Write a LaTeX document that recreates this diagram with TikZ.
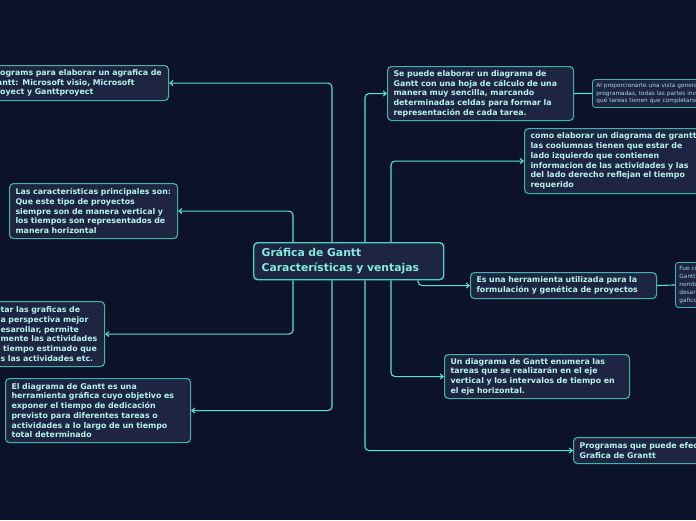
\documentclass[tikz,border=0pt]{standalone}
\usepackage{fontspec}
\setmainfont{DejaVu Sans}
\usetikzlibrary{arrows.meta}
\definecolor{bgc}{HTML}{0B1229}
\definecolor{boxc}{HTML}{1E2542}
\definecolor{edgec}{HTML}{3FB5A8}
\definecolor{cedgec}{HTML}{4CD3C3}
\definecolor{linec}{HTML}{5CE3D3}
\definecolor{txtc}{HTML}{B5F4EC}
\definecolor{ctxt}{HTML}{84EBDF}
\definecolor{stxt}{HTML}{9FD9E0}
\newcommand\myln[1]{\mbox{#1}}
\begin{document}
\begin{tikzpicture}[x=1pt,y=-1pt,
 topic/.style={draw=edgec, line width=1.1pt, fill=boxc, rounded corners=4pt, text=txtc, align=left, anchor=north west, inner xsep=6pt, inner ysep=2pt, font=\bfseries\fontsize{7.85}{9.7}\selectfont},
 central/.style={draw=cedgec, line width=1.4pt, fill=boxc, rounded corners=4pt, text=ctxt, align=left, anchor=north west, inner xsep=8pt, inner ysep=2pt, font=\bfseries\fontsize{10.8}{15}\selectfont},
 sub/.style={draw=edgec, line width=0.9pt, fill=boxc, rounded corners=3pt, text=stxt, align=left, anchor=north west, inner xsep=4pt, inner ysep=1pt, font=\fontsize{5.8}{7.8}\selectfont},
 conn/.style={draw=linec, line width=1.1pt, rounded corners=4pt, -{Straight Barb[length=3pt,width=5pt]}},
 plainconn/.style={draw=linec, line width=1.1pt}]
\useasboundingbox (0,0) rectangle (696,520);
\fill[bgc] (0,0) rectangle (696,520);
\clip (0,0) rectangle (696,520);

\node[central, text width=174pt, minimum height=37pt] (cen) at (253,242)
 {\myln{Gráfica de Gantt}\\\myln{Características y ventajas}};

\node[topic, text width=172pt, minimum height=35pt] (prog) at (-16,65)
 {\myln{Programs para elaborar un agrafica de}\\\myln{Gantt: Microsoft visio, Microsoft}\\\myln{Proyect y Ganttproyect}};

\node[topic, text width=156pt, minimum height=55pt] (carac) at (9,183)
 {\myln{Las características principales son:}\\\myln{Que este tipo de proyectos}\\\myln{siempre son de manera vertical y}\\\myln{los tiempos son representados de}\\\myln{manera horizontal}};

\node[topic, text width=98pt, minimum height=65pt] (graf) at (-6,301)
 {\myln{\llap{Al implemen}tar las graficas de}\\\myln{\llap{Gantt da un}a perspectiva mejor}\\\myln{\llap{del proyecto a d}esarollar, permite}\\\myln{\llap{ver gráfica}mente las actividades}\\\myln{\llap{programadas, el} tiempo estimado que}\\\myln{\llap{toma realizar toda}s las actividades etc.}};

\node[topic, text width=173pt, minimum height=64pt] (eldiag) at (5,378)
 {\myln{El diagrama de Gantt es una}\\\myln{herramienta gráfica cuyo objetivo es}\\\myln{exponer el tiempo de dedicación}\\\myln{previsto para diferentes tareas o}\\\myln{actividades a lo largo de un tiempo}\\\myln{total determinado}};

\node[topic, text width=174pt, minimum height=54pt] (sepuede) at (387,66)
 {\myln{Se puede elaborar un diagrama de}\\\myln{Gantt con una hoja de cálculo de una}\\\myln{manera muy sencilla, marcando}\\\myln{determinadas celdas para formar la}\\\myln{representación de cada tarea.}};

\node[sub, text width=140pt, minimum height=28pt] (alprop) at (592,79)
 {\myln{Al proporcionarte una vista general de las tareas}\\\myln{programadas, todas las partes involucradas sabrán}\\\myln{qué tareas tienen que completarse y en qué fecha}};

\node[topic, text width=190pt, minimum height=65pt] (como) at (524,128)
 {\myln{como elaborar un diagrama de grantt}\\\myln{las coolumnas tienen que estar de}\\\myln{lado izquierdo que contienen}\\\myln{informacion de las actividades y las}\\\myln{del lado derecho reflejan el tiempo}\\\myln{requerido}};

\node[topic, text width=174pt, minimum height=26pt] (esuna) at (470,272)
 {\myln{Es una herramienta utilizada para la}\\\myln{formulación y genética de proyectos}};

\node[sub, text width=60pt, minimum height=45pt] (fue) at (675,262)
 {\myln{Fue creado por Henry}\\\myln{Gantt, de ahí su}\\\myln{nombre, y fue}\\\myln{desarrollado como}\\\myln{gafico de barras}};

\node[topic, text width=173pt, minimum height=44pt] (undiag) at (444,354)
 {\myln{Un diagrama de Gantt enumera las}\\\myln{tareas que se realizarán en el eje}\\\myln{vertical y los intervalos de tiempo en}\\\myln{el eje horizontal.}};

\node[topic, text width=190pt, minimum height=26pt] (progr) at (573,437)
 {\myln{Programas que puede efectuar la}\\\myln{Grafica de Grantt}};

% connectors from the central topic
\draw[conn] ([xshift=79pt]cen.north west) |- (prog.east);
\draw[conn] ([xshift=40pt]cen.north west) |- (carac.east);
\draw[conn] ([xshift=40pt]cen.south west) |- (graf.east);
\draw[conn] ([xshift=79pt]cen.south west) |- (eldiag.east);
\draw[conn] ([xshift=112pt]cen.north west) |- (sepuede.west);
\draw[conn] ([xshift=138pt]cen.north west) |- (como.west);
\draw[conn] ([xshift=165pt]cen.south west) |- (esuna.west);
\draw[conn] ([xshift=138pt]cen.south west) |- (undiag.west);
\draw[conn] ([xshift=112pt]cen.south west) |- (progr.west);
% sub-topic links
\draw[plainconn] (sepuede.east) -- (alprop.west);
\draw[plainconn] (esuna.east) -- (fue.west);
\end{tikzpicture}
\end{document}
